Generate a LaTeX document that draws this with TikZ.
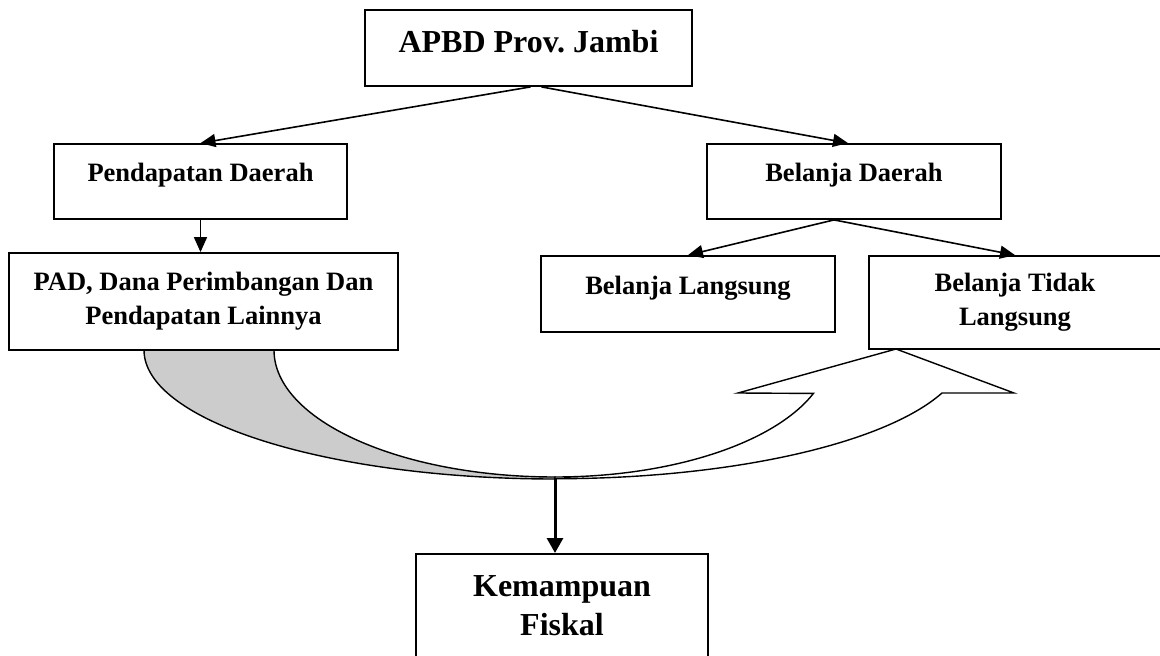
\documentclass[tikz,border=0pt]{standalone}
\usepackage{fontspec}
\setmainfont{Liberation Serif}
\usetikzlibrary{arrows.meta}

\tikzset{
  kotak/.style={draw, line width=1.8pt, align=center, inner sep=0pt,
    font=\fontsize{26.5}{34}\selectfont\bfseries},
  besar/.style={font=\fontsize{32}{39}\selectfont\bfseries},
  satubaris/.style={text height=14pt, text depth=14pt},
  panah/.style={line width=1.6pt, -{Triangle[length=15pt,width=13pt]}},
  panahtebal/.style={line width=3pt, -{Triangle[length=15pt,width=16pt]}},
}

\begin{document}
\begin{tikzpicture}[x=1pt,y=1pt]
  \useasboundingbox (0,0) rectangle (1160,-656);

  % panah lengkung
  \filldraw[fill=black!20, line width=1.4pt] (144,-350)
    arc[start angle=180, end angle=270, x radius=411, y radius=129] -- (555,-477)
    arc[start angle=270, end angle=180, x radius=281, y radius=127] -- cycle;
  \filldraw[fill=white, line width=1.4pt] (555,-477)
    arc[start angle=270, end angle=340, x radius=275, y radius=127]
    -- (738,-393) -- (896,-349) -- (1014,-393) -- (942,-393)
    arc[start angle=340.4, end angle=270, x radius=411, y radius=129] -- cycle;
  \coordinate (temu) at (555,-479);

  % kotak
  \node[kotak, besar, text height=22pt, text depth=14pt, minimum width=327pt, minimum height=76pt]
    (apbd) at (528.5,-48) {APBD Prov.\ Jambi};
  \node[kotak, satubaris, minimum width=293pt, minimum height=75pt]
    (pendapatan) at (200.5,-181.5) {Pendapatan Daerah};
  \node[kotak, minimum width=389pt, minimum height=97pt]
    (pad) at (203.5,-301.5) {PAD, Dana Perimbangan Dan\\Pendapatan Lainnya};
  \node[kotak, satubaris, minimum width=294pt, minimum height=75pt]
    (belanja) at (854,-181.5) {Belanja Daerah};
  \node[kotak, satubaris, minimum width=294pt, minimum height=76pt]
    (langsung) at (688,-294) {Belanja Langsung};
  \node[kotak, minimum width=292pt, minimum height=93pt]
    (tdklangsung) at (1015,-302.5) {Belanja Tidak\\Langsung};
  \node[kotak, besar, anchor=north, minimum width=292pt, minimum height=104pt]
    (fiskal) at (562,-553) {Kemampuan\\Fiskal};

  % panah
  \draw[panah] ([xshift=2pt]apbd.south) -- (pendapatan.north);
  \draw[panah] ([xshift=13pt]apbd.south) -- ([xshift=-6pt]belanja.north);
  \draw[panah] (pendapatan.south) -- (pendapatan.south |- pad.north);
  \draw[panah] ([xshift=-20pt]belanja.south) -- (langsung.north);
  \draw[panah] ([xshift=-20pt]belanja.south) -- (tdklangsung.north);
  \draw[panahtebal] (temu) -- (temu |- fiskal.north);
\end{tikzpicture}
\end{document}
